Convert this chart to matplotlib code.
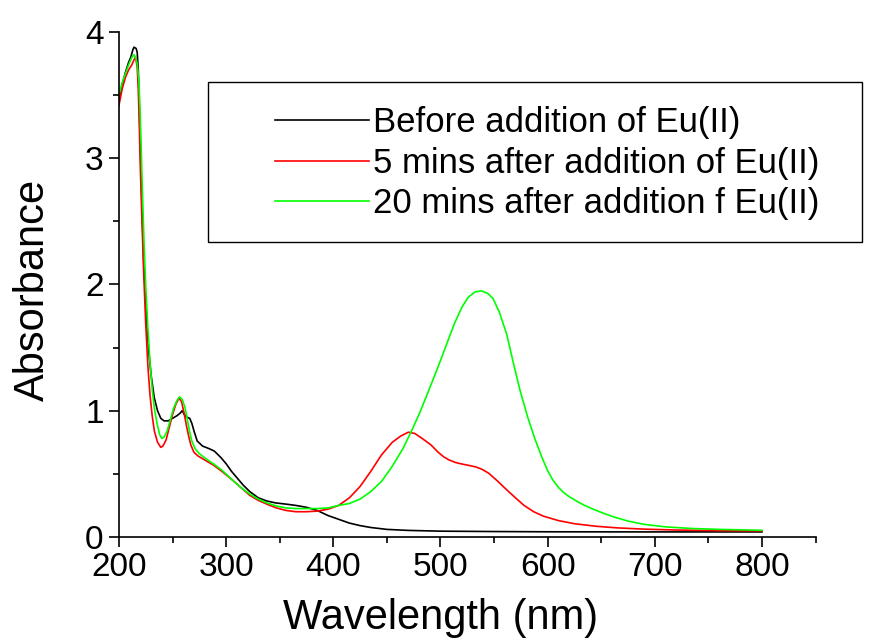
"""UV-vis absorbance spectra before / after Eu(II) addition.

Output: out.png
"""
import matplotlib
matplotlib.use("Agg")
import matplotlib.pyplot as plt
from matplotlib.patches import Rectangle
from matplotlib.ticker import MultipleLocator

plt.rcParams["font.family"] = ["Liberation Sans", "DejaVu Sans"]

# ── data ─────────────────────────────────────────────────────────────────────
wl_before = [200, 203, 206, 209, 211, 213, 214, 216, 217, 218, 219, 220, 221.5,
             223, 225, 226.5, 228, 230, 233, 236, 239, 242, 246, 250, 254, 257,
             259, 261, 263, 266, 268, 270, 273, 278, 284, 289, 295, 300, 305,
             310, 316, 322, 330, 338, 346, 356, 365, 375, 385, 395, 405, 415,
             425, 435, 450, 470, 500, 550, 600, 700, 800]
abs_before = [3.45, 3.58, 3.68, 3.76, 3.80, 3.86, 3.88, 3.87, 3.84, 3.70, 3.40,
              3.05, 2.60, 2.20, 1.85, 1.62, 1.45, 1.28, 1.10, 1.00, 0.94, 0.92,
              0.92, 0.94, 0.96, 0.98, 1.00, 0.97, 0.95, 0.94, 0.90, 0.84, 0.76,
              0.72, 0.70, 0.68, 0.63, 0.58, 0.52, 0.47, 0.41, 0.36, 0.31, 0.285,
              0.27, 0.26, 0.25, 0.235, 0.21, 0.17, 0.14, 0.11, 0.09, 0.075,
              0.06, 0.052, 0.046, 0.043, 0.041, 0.04, 0.04]

wl_5min = [200, 203, 206, 209, 212, 214, 215.5, 217, 218, 219, 220, 221.5, 223,
           225, 227, 229, 231, 233, 236, 239, 241, 244, 247, 250, 253, 256,
           258.5, 261, 263, 265, 267, 270, 274, 280, 288, 296, 306, 314, 322,
           330, 338, 347, 356, 365, 375, 385, 395, 405, 415, 425, 435, 445,
           455, 463, 470, 476, 483, 491, 498, 503, 508, 514, 520, 527, 533,
           539, 545, 553, 561, 570, 578, 587, 596, 610, 625, 645, 665, 690,
           720, 760, 800]
abs_5min = [3.42, 3.55, 3.64, 3.70, 3.74, 3.78, 3.80, 3.72, 3.55, 3.25, 2.90,
            2.50, 2.10, 1.68, 1.35, 1.12, 0.96, 0.84, 0.75, 0.71, 0.72, 0.77,
            0.87, 0.97, 1.05, 1.10, 1.07, 0.97, 0.88, 0.80, 0.73, 0.67, 0.64,
            0.61, 0.57, 0.52, 0.45, 0.39, 0.33, 0.29, 0.26, 0.23, 0.21, 0.20,
            0.20, 0.205, 0.22, 0.25, 0.31, 0.40, 0.52, 0.65, 0.75, 0.80, 0.83,
            0.82, 0.78, 0.73, 0.67, 0.635, 0.61, 0.59, 0.578, 0.566, 0.555,
            0.535, 0.505, 0.445, 0.38, 0.31, 0.25, 0.20, 0.165, 0.13, 0.105,
            0.085, 0.072, 0.062, 0.055, 0.05, 0.048]

wl_20min = [200, 203, 206, 209, 212, 214, 215.5, 217, 218.5, 219.5, 220.5, 222,
            223.5, 225, 227, 229, 231, 233, 235.5, 238, 240, 242, 245, 248, 251,
            254, 256.5, 259, 261.5, 264, 266, 268, 271, 275, 281, 288, 296, 306,
            314, 322, 330, 338, 347, 356, 365, 375, 385, 395, 405, 415, 425,
            435, 445, 455, 465, 473, 481, 489, 497, 505, 513, 520, 526, 532,
            538, 544, 549, 555, 562, 568, 574, 581, 588, 594, 600, 605, 610,
            615, 620, 627, 634, 642, 652, 662, 675, 690, 710, 735, 760, 800]
abs_20min = [3.50, 3.60, 3.67, 3.74, 3.80, 3.82, 3.80, 3.75, 3.62, 3.42, 3.15,
             2.70, 2.30, 1.98, 1.65, 1.38, 1.17, 1.02, 0.90, 0.81, 0.78, 0.79,
             0.84, 0.93, 1.02, 1.08, 1.11, 1.09, 1.03, 0.92, 0.83, 0.76, 0.70,
             0.66, 0.62, 0.58, 0.53, 0.45, 0.39, 0.34, 0.30, 0.27, 0.245, 0.23,
             0.225, 0.225, 0.225, 0.23, 0.25, 0.265, 0.30, 0.36, 0.44, 0.56,
             0.70, 0.84, 0.99, 1.16, 1.33, 1.51, 1.69, 1.82, 1.90, 1.94, 1.95,
             1.93, 1.89, 1.78, 1.60, 1.38, 1.17, 0.96, 0.78, 0.645, 0.525, 0.45,
             0.393, 0.352, 0.32, 0.284, 0.252, 0.222, 0.188, 0.158, 0.126, 0.1,
             0.08, 0.067, 0.06, 0.053]

labels = ["Before addition of Eu(II)",
          "5 mins after addition of Eu(II)",
          "20 mins after addition f Eu(II)"]
colors = ["#000000", "#ff0000", "#00ff00"]


def main() -> None:
    fig = plt.figure(figsize=(8.71, 6.43), dpi=100)
    ax = fig.add_axes([0.1366, 0.1649, 0.7997, 0.7853])

    series = [(wl_before, abs_before), (wl_5min, abs_5min), (wl_20min, abs_20min)]
    for (x, y), lab, col in zip(series, labels, colors):
        ax.plot(x, y, color=col, lw=1.2, label=lab)

    ax.set_xlim(200, 850)
    ax.set_ylim(0, 4)
    ax.set_xticks(range(200, 801, 100))
    ax.xaxis.set_minor_locator(MultipleLocator(50))
    ax.yaxis.set_major_locator(MultipleLocator(1))
    ax.yaxis.set_minor_locator(MultipleLocator(0.5))

    for side in ("top", "right"):
        ax.spines[side].set_visible(False)
    for side in ("left", "bottom"):
        ax.spines[side].set_linewidth(1.2)

    ax.tick_params(which="major", direction="out", length=7.5, width=1.2,
                   labelsize=24, pad=3.5)
    ax.tick_params(which="minor", direction="out", length=4.5, width=1.2)

    ax.set_xlabel("Wavelength (nm)", fontsize=30)
    ax.set_ylabel("Absorbance", fontsize=30)
    # label sits under the 200-800 data span, not the whole axis
    ax.xaxis.set_label_coords(0.4615, -0.121)
    ax.yaxis.set_label_coords(-0.095, 0.49)

    # legend frame runs past the end of the x axis, so draw it by hand
    fig.patches.append(Rectangle((0.2388, 0.6236), 0.7509, 0.2488,
                                 transform=fig.transFigure, fill=False,
                                 edgecolor="black", lw=1.0))
    ax.legend(loc="upper left", bbox_to_anchor=(0.3157, 0.835),
              bbox_transform=fig.transFigure, frameon=False, fontsize=25,
              handlelength=2.7, handletextpad=0.12, borderpad=0,
              borderaxespad=0, labelspacing=0.22)

    fig.savefig("out.png", dpi=100)
    plt.close(fig)


if __name__ == "__main__":
    main()
